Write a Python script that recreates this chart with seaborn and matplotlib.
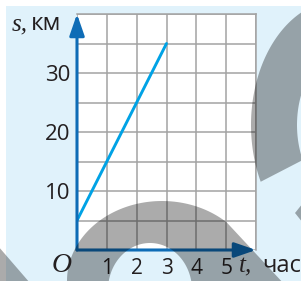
import numpy as np
import matplotlib
matplotlib.use("Agg")
import matplotlib.pyplot as plt
import seaborn as sns
from matplotlib.path import Path
from matplotlib.patches import PathPatch, Rectangle

# ── data ──────────────────────────────────────
t_hours = [0, 3]          # time, hours
s_km = [5, 35]            # distance, km
x_ticks = [1, 2, 3, 4, 5]
y_ticks = [10, 20, 30]
x_max, y_max = 6, 40
x_grid_step, y_grid_step = 1, 5

AXIS_BLUE = "#0E6CB6"
LINE_BLUE = "#00A2E5"
GRID_GRAY = "#A3A3A3"
PAGE_BLUE = "#E0F2FB"

sns.set_theme(style="white")
plt.rcParams["font.family"] = ["Open Sans", "DejaVu Sans"]

W, H = 301, 281
fig = plt.figure(figsize=(W / 100, H / 100), dpi=100, facecolor="white")

# page background (light blue block)
bg = fig.add_axes([0, 0, 1, 1], zorder=-1)
bg.set_xlim(0, W)
bg.set_ylim(H, 0)
bg.axis("off")
bg.add_patch(Rectangle((6, 6), W, H, color=PAGE_BLUE, lw=0))

# ── main chart ────────────────────────────────
ax = fig.add_axes([77 / W, 31 / H, 179 / W, 236 / H], zorder=1)
ax.set_facecolor("white")
sns.lineplot(x=t_hours, y=s_km, ax=ax, color=LINE_BLUE, linewidth=2.1, zorder=3)

ax.set_xlim(0, x_max)
ax.set_ylim(0, y_max)
ax.set_xticks(x_ticks)
ax.set_yticks(y_ticks)
ax.set_xticks(np.arange(0, x_max + 1, x_grid_step), minor=True)
ax.set_yticks(np.arange(0, y_max + 1, y_grid_step), minor=True)
ax.grid(which="both", color=GRID_GRAY, linewidth=1.1)
ax.set_axisbelow(True)
ax.tick_params(which="minor", length=0)
ax.tick_params(axis="x", which="major", length=0, pad=6, labelsize=15, colors="#231F20")
ax.tick_params(axis="y", which="major", length=3.5, width=1.0, color=GRID_GRAY,
               pad=1, labelsize=16, labelcolor="#231F20")
ax.set_xlabel("")
ax.set_ylabel("")
for side in ["top", "right"]:
    ax.spines[side].set_visible(True)
    ax.spines[side].set_color(GRID_GRAY)
    ax.spines[side].set_linewidth(1.1)
for side in ["left", "bottom"]:
    ax.spines[side].set_visible(False)

# axes with arrow heads
arrow = dict(arrowstyle="-|>,head_length=1.3,head_width=0.45", color=AXIS_BLUE,
             lw=2.2, shrinkA=0, shrinkB=0, mutation_scale=10)
ax.annotate("", xy=(0, y_max), xytext=(0, 0), arrowprops=arrow, annotation_clip=False)
ax.annotate("", xy=(x_max, 0), xytext=(0, 0), arrowprops=arrow, annotation_clip=False)

# ── overlay: labels + watermark (pixel coords) ─
ov = fig.add_axes([0, 0, 1, 1], zorder=5)
ov.set_xlim(0, W)
ov.set_ylim(H, 0)
ov.axis("off")
ov.patch.set_alpha(0)

serif_it = dict(family="Liberation Serif", style="italic", color="#231F20")
sans = dict(family=["Open Sans", "DejaVu Sans"], color="#231F20")
ov.text(12, 30, "s,", fontsize=18, va="baseline", ha="left", **serif_it)
ov.text(31, 30, "км", fontsize=17.5, va="baseline", ha="left", **sans)
ov.text(52, 272, "O", fontsize=20, va="baseline", ha="left", **serif_it)
ov.text(239, 272, "t,", fontsize=18, va="baseline", ha="left", **serif_it)
ov.text(262, 272, "час", fontsize=17, va="baseline", ha="left", **sans)


def ell(cx, cy, a, b, t0, t1, n=80):
    th = np.radians(np.linspace(t0, t1, n))
    return np.column_stack([cx + a * np.cos(th), cy + b * np.sin(th)])


# gray watermark shapes (dark with alpha acts like a multiply)
arch = np.vstack([
    ell(162, 281, 95, 80, 180, 313),
    [[285, 285], [285, 292], [192, 292]],
    ell(150, 290, 42, 47, 360, 180),
    [[108, 292], [67, 292]],
])
crescent = np.vstack([
    ell(340, 125, 89, 125, 153, 270),
    ell(340, 125, 43, 70, 270, 150),
])
left_tri = np.array([[-2, 246], [30, 283], [-2, 283]])
blob = np.array([[303, 203], [295, 213], [303, 223]])

verts, codes = [], []
for poly in [arch, crescent, left_tri, blob]:
    verts.extend(poly.tolist())
    verts.append(poly[0].tolist())
    codes.extend([Path.MOVETO] + [Path.LINETO] * (len(poly) - 1) + [Path.CLOSEPOLY])
ov.add_patch(PathPatch(Path(verts, codes), facecolor="black", alpha=0.33, lw=0))

fig.savefig("out.png", dpi=100, facecolor="white")
